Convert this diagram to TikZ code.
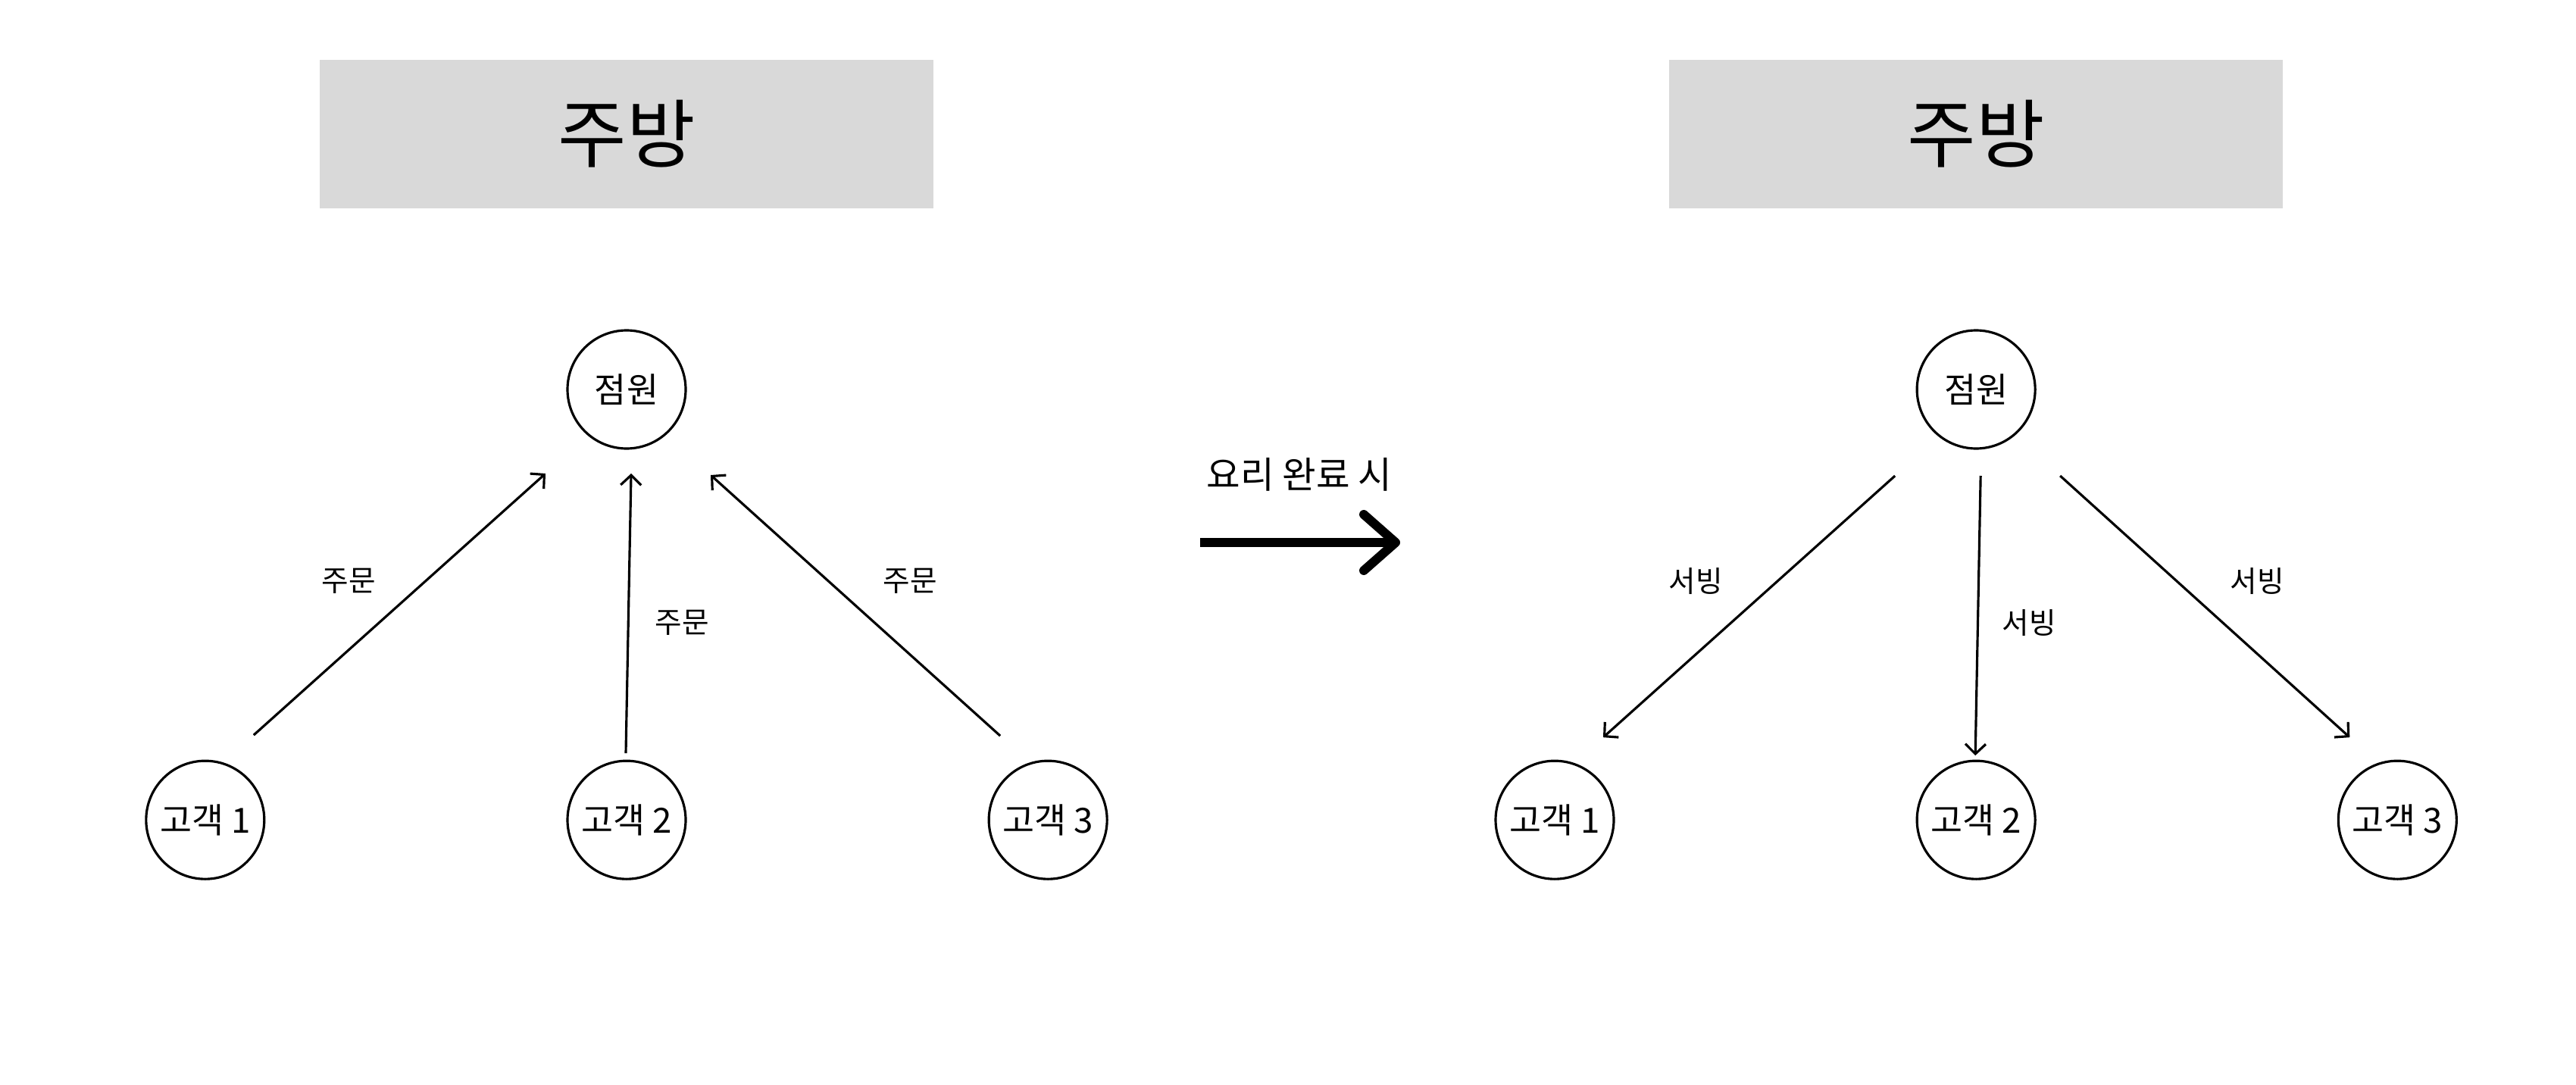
\documentclass[tikz,border=0pt]{standalone}
\usepackage{fontspec}
\setmainfont{Noto Sans CJK KR}
\usepackage{tikz}
\usetikzlibrary{arrows.meta,positioning,calc}
\definecolor{kitchengray}{RGB}{217,217,217}

\begin{document}
\begin{tikzpicture}[
    node distance=4.09cm and 3.97cm,
    kitchen/.style={rectangle, fill=kitchengray, minimum width=8.1cm, minimum height=1.96cm, inner sep=0pt, font=\fontsize{28}{33}\selectfont},
    person/.style={circle, draw, line width=0.9pt, minimum size=1.56cm, inner sep=0pt, font=\fontsize{13}{16}\selectfont},
    msg/.style={font=\fontsize{11}{13}\selectfont},
    flow/.style={-{Straight Barb[length=1.3mm,width=2.7mm]}, line width=0.9pt},
    bigflow/.style={-{Straight Barb[length=4.2mm,width=7.4mm,round]}, line width=3.4pt}
]
\useasboundingbox (0,0) rectangle (34,-14.32);

% Order
\node[person] (oclerk) at (8.27,-5.14) {점원};
\node[kitchen, above=1.59cm of oclerk] (okitchen) {주방};
\node[person, below=of oclerk] (o2) {고객 2};
\node[person, left=of o2] (o1) {고객 1};
\node[person, right=of o2] (o3) {고객 3};

% Serving
\node[person, right=16.22cm of oclerk] (sclerk) {점원};
\node[kitchen, above=1.59cm of sclerk] (skitchen) {주방};
\node[person, below=of sclerk] (s2) {고객 2};
\node[person, left=of s2] (s1) {고객 1};
\node[person, right=of s2] (s3) {고객 3};

% Labels
\node[msg] (om1) at (4.60,-7.67) {주문};
\node[msg] (om2) at (9.00,-8.22) {주문};
\node[msg] (om3) at (12.01,-7.67) {주문};
\node[msg] (sm1) at (22.38,-7.67) {서빙};
\node[msg] (sm2) at (26.78,-8.22) {서빙};
\node[msg] (sm3) at (29.79,-7.67) {서빙};

% Transition
\coordinate (go) at (15.84,-7.16);
\coordinate (done) at (18.48,-7.16);
\node[font=\fontsize{13.8}{16}\selectfont] (when) at (17.15,-6.26) {요리 완료 시};

% Arrows
\draw[flow] ($(o1)+(0.64,1.12)$) -- ($(oclerk)+(-1.07,-1.11)$);
\draw[flow] ($(o2)+(-0.01,0.88)$) -- ($(oclerk)+(0.06,-1.11)$);
\draw[flow] ($(o3)+(-0.63,1.11)$) -- ($(oclerk)+(1.11,-1.13)$);
\draw[flow] ($(sclerk)+(-1.07,-1.14)$) -- ($(s1)+(0.64,1.09)$);
\draw[flow] ($(sclerk)+(0.06,-1.14)$) -- ($(s2)+(-0.01,0.85)$);
\draw[flow] ($(sclerk)+(1.11,-1.14)$) -- ($(s3)+(-0.63,1.09)$);
\draw[bigflow] (go) -- (done);

\end{tikzpicture}
\end{document}
